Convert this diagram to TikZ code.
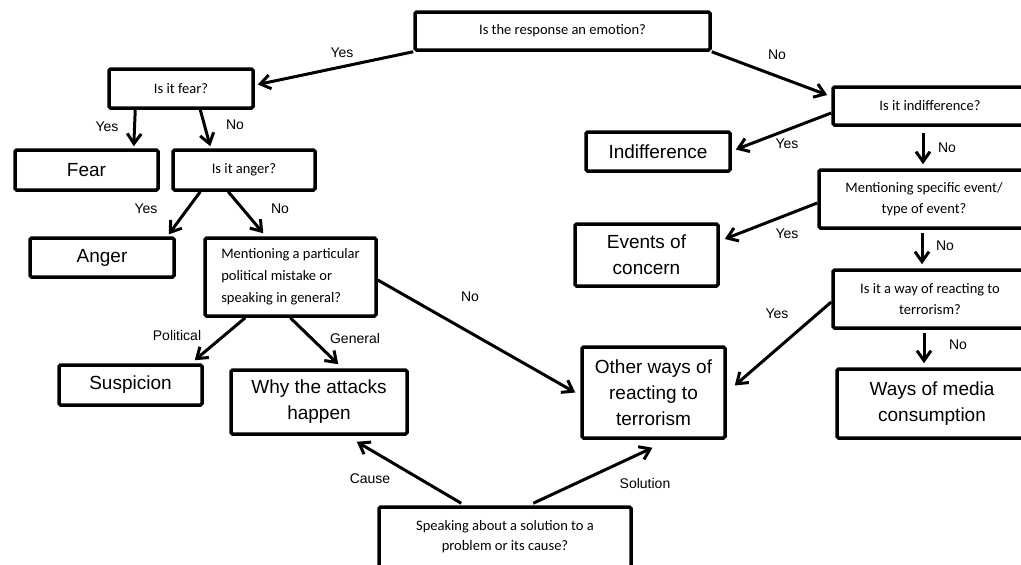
\documentclass[tikz,border=0pt]{standalone}
\usepackage{fontspec}
\setmainfont{Liberation Sans}
\newfontfamily\qfont{Carlito}
\usetikzlibrary{arrows.meta,calc}
\begin{document}
\begin{tikzpicture}[x=1pt,y=-1pt,
  box/.style={draw,line width=3.5pt,fill=white,rounded corners=1.5pt,inner sep=0pt,align=center},
  qbox/.style={box,font=\qfont\fontsize{14.5}{21}\selectfont},
  rbox/.style={box,font=\fontsize{19}{26}\selectfont},
  conn/.style={line width=3pt,-{Straight Barb[length=10pt,width=14pt]}},
  lbl/.style={font=\fontsize{14}{16}\selectfont,inner sep=0pt}]
\clip (0,0) rectangle (1021,565);
\fill[white] (0,0) rectangle (1021,565);
% question boxes
\node[qbox,minimum width=295pt,minimum height=38pt] (q1) at (562.5,31) {Is the response an emotion?};
\node[qbox,minimum width=144pt,minimum height=39pt] (fearq) at (181,88.5) {Is it fear?};
\node[qbox,minimum width=142pt,minimum height=40pt] (angerq) at (244,170) {Is it anger?};
\node[qbox,minimum width=171pt,minimum height=78pt,align=left,font=\qfont\fontsize{14.5}{22}\selectfont] (mentp) at (290.5,277) {Mentioning a particular\\political mistake or\\speaking in general?};
\node[qbox,minimum width=194pt,minimum height=38pt] (indq) at (930,106) {Is it indifference?};
\node[qbox,minimum width=210pt,minimum height=58pt] (ments) at (924,199) {Mentioning specific event/\\type of event?};
\node[qbox,minimum width=194pt,minimum height=58pt] (wayq) at (930,299) {Is it a way of reacting to\\terrorism?};
\node[qbox,minimum width=252pt,minimum height=60pt,font=\qfont\fontsize{14.5}{20}\selectfont] (speak) at (505,537) {Speaking about a solution to a\\problem or its cause?};
% result boxes
\node[rbox,minimum width=143pt,minimum height=40pt] (fear) at (86.5,170) {Fear};
\node[rbox,minimum width=144pt,minimum height=39pt] (anger) at (102,257.5) {Anger};
\node[rbox,minimum width=143pt,minimum height=40pt] (susp) at (130.5,385) {Suspicion};
\node[rbox,minimum width=176pt,minimum height=64pt] (why) at (319,402) {Why the attacks\\happen};
\node[rbox,minimum width=143pt,minimum height=91pt] (other) at (653.5,392.5) {Other ways of\\reacting to\\terrorism};
\node[rbox,minimum width=144pt,minimum height=39pt] (indiff) at (658,151.5) {Indifference};
\node[rbox,minimum width=143pt,minimum height=62pt] (events) at (646.5,255) {Events of\\concern};
\node[rbox,minimum width=190pt,minimum height=69pt] (media) at (932,403.5) {Ways of media\\consumption};
% connectors
\draw[conn] (q1.south west) -- ($(fearq.east)+(3,-4)$);
\draw[conn] (q1.south east) -- ($(indq.west)+(-4,-11)$);
\draw[conn] ($(fearq.south west)+(28,0)$) -- ($(fear.north east)+(-26,-2)$);
\draw[conn] ($(fearq.south west)+(93,0)$) -- ($(angerq.north west)+(39,-2)$);
\draw[conn] ($(angerq.south west)+(29,0)$) -- ($(anger.north east)+(-7,-2)$);
\draw[conn] ($(angerq.south west)+(57,0)$) -- ($(mentp.north west)+(60,-3)$);
\draw[conn] ($(mentp.south west)+(42,0)$) -- ($(susp.north east)+(-9,-3)$);
\draw[conn] ($(mentp.south west)+(87,0)$) -- ($(why.north west)+(109,-4)$);
\draw[conn] ($(mentp.east)+(0,3)$) -- ($(other.west)+(-5,0)$);
\draw[conn] ($(indq.west)+(0,7)$) -- ($(indiff.east)+(4,-2)$);
\draw[conn] ($(indq.south)+(-7,6)$) -- ($(ments.north)+(-1,-4)$);
\draw[conn] ($(ments.west)+(0,4)$) -- ($(events.east)+(5,-16)$);
\draw[conn] ($(ments.south)+(-2,3)$) -- ($(wayq.north)+(-8,-4)$);
\draw[conn] ($(wayq.west)+(0,3)$) -- ($(other.east)+(8,-7)$);
\draw[conn] ($(wayq.south)+(-6,3)$) -- ($(media.north)+(-8,-4)$);
\draw[conn] ($(speak.north west)+(84,-2)$) -- ($(why.south east)+(-52,6)$);
\draw[conn] ($(speak.north west)+(156,-2)$) -- ($(other.south)+(-1,8)$);
% labels
\node[lbl] (l1) at (342,53) {Yes};
\node[lbl] (l2) at (777,55) {No};
\node[lbl] (l3) at (107,127) {Yes};
\node[lbl] (l4) at (235,125) {No};
\node[lbl] (l5) at (146,209) {Yes};
\node[lbl] (l6) at (280,209) {No};
\node[lbl] (l7) at (177,335) {Political};
\node[lbl] (l8) at (355,338) {General};
\node[lbl] (l9) at (470,297) {No};
\node[lbl] (l10) at (787,144) {Yes};
\node[lbl] (l11) at (947,148) {No};
\node[lbl] (l12) at (787,234) {Yes};
\node[lbl] (l13) at (945,246) {No};
\node[lbl] (l14) at (777,314) {Yes};
\node[lbl] (l15) at (958,345) {No};
\node[lbl] (l16) at (370,479) {Cause};
\node[lbl] (l17) at (645,483) {Solution};
\end{tikzpicture}
\end{document}
